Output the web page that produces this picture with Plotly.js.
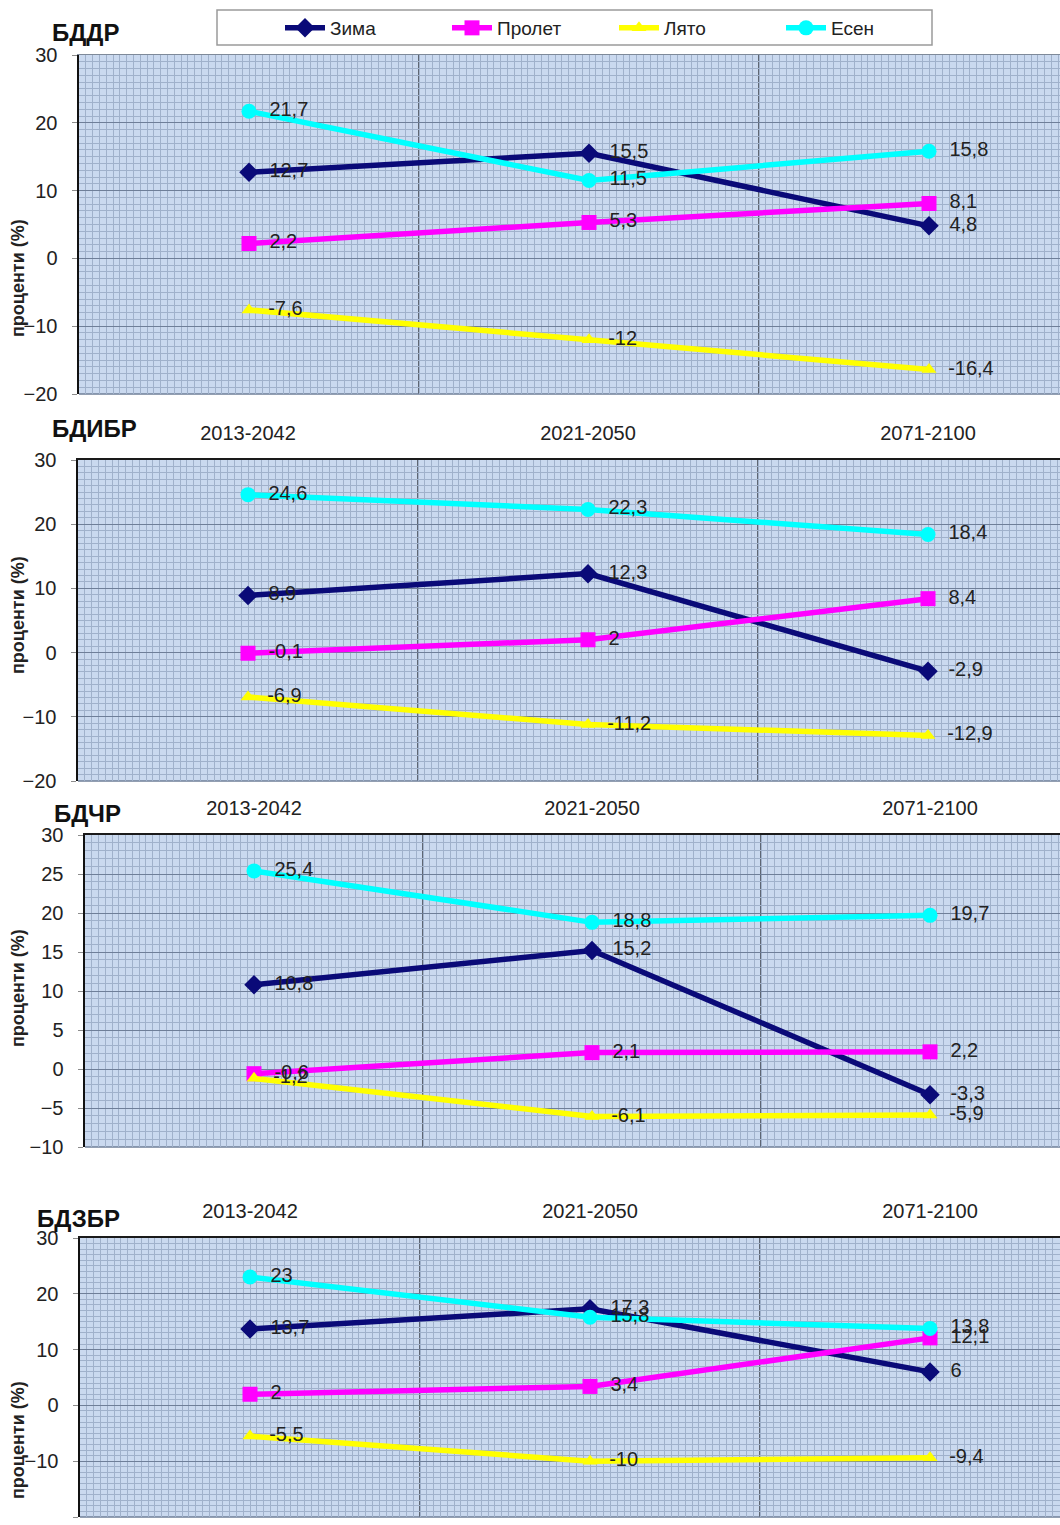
<!DOCTYPE html>
<html>
<head>
<meta charset="utf-8">
<script src="https://cdn.plot.ly/plotly-3.0.1.min.js"></script>
<style>
  html, body { margin: 0; padding: 0; background: #ffffff; }
  #chart { width: 1060px; height: 1525px; }
</style>
</head>
<body>
<div id="chart"></div>
<script>
// ---------- DATA ----------
const categories = ['2013-2042', '2021-2050', '2071-2100'];
const seriesNames = ['Зима', 'Пролет', 'Лято', 'Есен'];
const panelTitles = ['БДДР', 'БДИБР', 'БДЧР', 'БДЗБР'];
const yAxisTitle = 'проценти (%)';

// БДДР
const bddrZima   = [12.7, 15.5, 4.8];
const bddrProlet = [2.2, 5.3, 8.1];
const bddrLyato  = [-7.6, -12, -16.4];
const bddrEsen   = [21.7, 11.5, 15.8];
// БДИБР
const bdibrZima   = [8.9, 12.3, -2.9];
const bdibrProlet = [-0.1, 2, 8.4];
const bdibrLyato  = [-6.9, -11.2, -12.9];
const bdibrEsen   = [24.6, 22.3, 18.4];
// БДЧР
const bdchrZima   = [10.8, 15.2, -3.3];
const bdchrProlet = [-0.6, 2.1, 2.2];
const bdchrLyato  = [-1.2, -6.1, -5.9];
const bdchrEsen   = [25.4, 18.8, 19.7];
// БДЗБР
const bdzbrZima   = [13.7, 17.3, 6];
const bdzbrProlet = [2, 3.4, 12.1];
const bdzbrLyato  = [-5.5, -10, -9.4];
const bdzbrEsen   = [23, 15.8, 13.8];

const panelData = [
  [bddrZima, bddrProlet, bddrLyato, bddrEsen],
  [bdibrZima, bdibrProlet, bdibrLyato, bdibrEsen],
  [bdchrZima, bdchrProlet, bdchrLyato, bdchrEsen],
  [bdzbrZima, bdzbrProlet, bdzbrLyato, bdzbrEsen]
];
const yRanges = [[-20, 30], [-20, 30], [-10, 30], [-20, 30]];
const yDticks = [10, 10, 5, 10];

// ---------- STYLE ----------
const FONT = '"Liberation Sans", Arial, sans-serif';
const W = 1060, H = 1525;
const seriesStyle = [
  { color: '#0a0a78', symbol: 'diamond', size: 15 },
  { color: '#ff00ff', symbol: 'square', size: 15 },
  { color: '#ffff00', symbol: 'triangle-up', size: 13 },
  { color: '#00ffff', symbol: 'circle', size: 15 }
];
// pixel geometry of each panel: [left, top, bottom, categoryWidth]
const panelGeom = [
  [79, 55, 394, 340],
  [78, 460, 781, 340],
  [85, 835, 1147, 338],
  [80, 1238, 1517, 340]
];
const titlePos = [[50, 32], [50, 428], [52, 813], [35, 1218]];
const yTitleCenter = [278, 615, 988, 1440];

const fmt = v => '\u2002' + String(v).replace('.', ',');
const idx = categories.map((_, i) => i);

const traces = [];
const layout = {
  width: W, height: H,
  margin: { l: 0, r: 0, t: 0, b: 0, autoexpand: false },
  paper_bgcolor: '#ffffff',
  plot_bgcolor: '#cad9ef',
  font: { family: FONT, size: 19, color: '#222' },
  showlegend: true,
  legend: {
    orientation: 'h',
    x: 280 / W, xanchor: 'left',
    y: 1 - 28 / H, yanchor: 'middle',
    bgcolor: 'rgba(0,0,0,0)',
    font: { family: FONT, size: 19, color: '#222' },
    entrywidth: 112, entrywidthmode: 'pixels',
    itemwidth: 40
  },
  shapes: [],
  annotations: []
};

// legend frame
layout.shapes.push({
  type: 'rect', xref: 'paper', yref: 'paper',
  x0: 217 / W, x1: 932 / W, y0: 1 - 45 / H, y1: 1 - 10 / H,
  line: { color: '#9a9a9a', width: 1.5 }, fillcolor: 'rgba(0,0,0,0)', layer: 'below'
});

panelData.forEach((series, p) => {
  const suffix = p === 0 ? '' : String(p + 1);
  const xa = 'xaxis' + suffix, ya = 'yaxis' + suffix;
  const [left, top, bottom, cw] = panelGeom[p];
  const xmax = -0.5 + (W - left) / cw;

  series.forEach((vals, s) => {
    const st = seriesStyle[s];
    traces.push({
      type: 'scatter',
      mode: 'lines+markers+text',
      name: seriesNames[s],
      legendgroup: seriesNames[s],
      showlegend: p === 0,
      x: idx, y: vals,
      text: vals.map(fmt),
      textposition: 'middle right',
      textfont: { family: FONT, size: 20, color: '#222' },
      cliponaxis: false,
      line: { color: st.color, width: 5.5 },
      marker: { color: st.color, symbol: st.symbol, size: st.size, line: { width: 0 } },
      xaxis: 'x' + suffix, yaxis: 'y' + suffix,
      hoverinfo: 'skip'
    });
  });

  layout[xa] = {
    type: 'linear',
    domain: [left / W, 1],
    anchor: 'y' + suffix,
    range: [-0.5, xmax],
    tickmode: 'array', tickvals: idx, ticktext: categories,
    side: 'top',
    showticklabels: p > 0,
    ticks: '', ticklabelstandoff: 10,
    tickfont: { family: FONT, size: 20, color: '#222' },
    showgrid: false, zeroline: false,
    showline: true, linecolor: p === 0 ? '#7f8a99' : '#1a1a1a', linewidth: p === 0 ? 1.5 : 2.5,
    minor: { tickmode: 'linear', tick0: -0.5, dtick: 0.02, showgrid: true, gridcolor: '#a0b1cb', gridwidth: 1, ticks: '' },
    fixedrange: true
  };
  layout[ya] = {
    domain: [1 - bottom / H, 1 - top / H],
    anchor: 'x' + suffix,
    range: yRanges[p],
    dtick: yDticks[p], tick0: 0,
    ticks: 'outside', ticklen: 5, tickcolor: '#8c8c8c',
    ticklabelstandoff: 10,
    tickfont: { family: FONT, size: 20, color: '#222' },
    showgrid: true, gridcolor: '#6f7f99', gridwidth: 1,
    zeroline: false,
    showline: true, linecolor: '#111', linewidth: 2.5,
    minor: { dtick: 1, showgrid: true, gridcolor: '#a0b1cb', gridwidth: 1, ticks: '' },
    fixedrange: true
  };

  // category boundary lines
  idx.slice(0, -1).forEach(i => {
    layout.shapes.push({
      type: 'line', xref: 'x' + suffix, yref: 'y' + suffix + ' domain',
      x0: i + 0.5, x1: i + 0.5, y0: 0, y1: 1,
      line: { color: '#3a3f4a', width: 1.5 }, layer: 'below'
    });
  });

  // bottom border of plot area
  layout.shapes.push({
    type: 'line', xref: 'x' + suffix + ' domain', yref: 'y' + suffix + ' domain',
    x0: 0, x1: 1, y0: 0, y1: 0,
    line: { color: '#6f7f99', width: 1.5 }, layer: 'below'
  });

  // panel title
  layout.annotations.push({
    text: '<b>' + panelTitles[p] + '</b>',
    xref: 'paper', yref: 'paper',
    x: titlePos[p][0] / W, y: 1 - titlePos[p][1] / H,
    xanchor: 'left', yanchor: 'middle', showarrow: false,
    font: { family: FONT, size: 24, color: '#111' }
  });
  // y-axis title
  layout.annotations.push({
    text: '<b>' + yAxisTitle + '</b>',
    xref: 'paper', yref: 'paper',
    x: 18 / W, y: 1 - yTitleCenter[p] / H,
    xanchor: 'center', yanchor: 'middle', textangle: -90, showarrow: false,
    font: { family: FONT, size: 18, color: '#222' }
  });
});

Plotly.newPlot('chart', traces, layout, { staticPlot: true, displayModeBar: false });
</script>
</body>
</html>
